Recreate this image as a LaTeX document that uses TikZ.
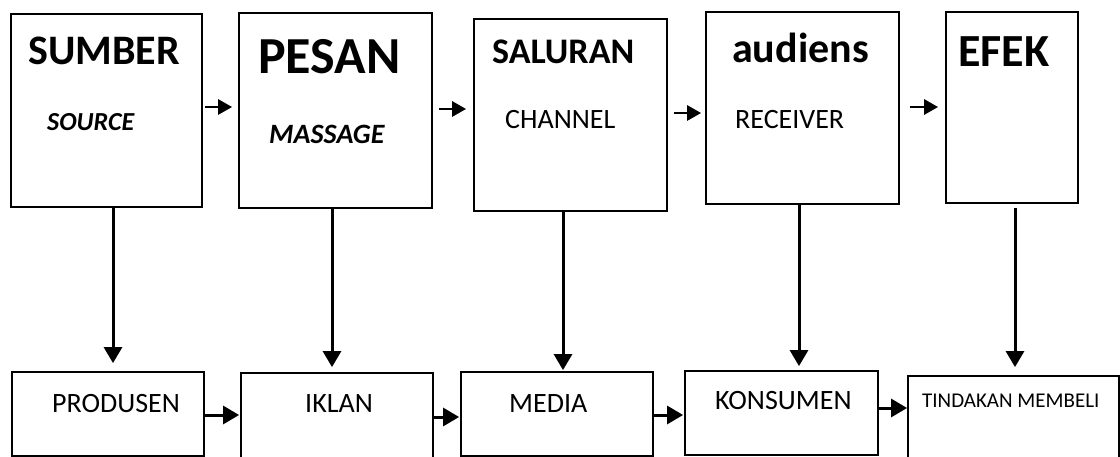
\documentclass[tikz,border=0pt]{standalone}
\usepackage{fontspec}
\setmainfont{Carlito}
\usetikzlibrary{arrows.meta}
\tikzset{
  box/.style={draw, line width=1.8pt, inner sep=0pt},
  lbl/.style={anchor=base west, inner sep=0pt},
  arr/.style={line width=2.8pt, -{Triangle[length=14pt,width=15pt]}},
  darr/.style={line width=3pt, -{Triangle[length=16pt,width=18pt]}},
}
\newcommand{\fs}[1]{\fontsize{#1}{#1}\selectfont}
\begin{document}
\begin{tikzpicture}[x=1pt,y=-1pt]
\useasboundingbox (0,0) rectangle (1120,457);
\clip (0,0) rectangle (1120,457);
% top row
\draw (106.5,110.5) node[box, minimum width=191, minimum height=193] (sumber) {};
\draw (335.5,110.5) node[box, minimum width=193, minimum height=195] (pesan) {};
\draw (570.5,115) node[box, minimum width=193, minimum height=192] (saluran) {};
\draw (802.5,108) node[box, minimum width=193, minimum height=192] (audiens) {};
\draw (1012,107.5) node[box, minimum width=132, minimum height=191] (efek) {};
\draw (28,65) node[lbl] (tsumber) {\fs{42}\bfseries SUMBER};
\draw (47,131) node[lbl] (tsource) {\fs{26}\bfseries\itshape SOURCE};
\draw (258,74) node[lbl] (tpesan) {\fs{52}\bfseries PESAN};
\draw (269,144) node[lbl] (tmassage) {\fs{28}\bfseries\itshape MASSAGE};
\draw (492,64) node[lbl] (tsaluran) {\fs{36}\bfseries SALURAN};
\draw (505,129) node[lbl] (tchannel) {\fs{28}CHANNEL};
\draw (732,63) node[lbl] (taudiens) {\fs{42}\bfseries audiens};
\draw (735,129) node[lbl] (treceiver) {\fs{28}RECEIVER};
\draw (958,67) node[lbl] (tefek) {\fs{46}\bfseries EFEK};
% bottom row
\draw (108,414) node[box, minimum width=192, minimum height=84] (produsen) {};
\draw (337,421.5) node[box, minimum width=192, minimum height=97] (iklan) {};
\draw (557,414) node[box, minimum width=192, minimum height=84] (media) {};
\draw (781.5,413) node[box, minimum width=193, minimum height=84] (konsumen) {};
\draw (1013.5,423) node[box, minimum width=211, minimum height=94] (tindakan) {};
\draw (52,412) node[lbl] (tprodusen) {\fs{28}PRODUSEN};
\draw (305,412) node[lbl] (tiklan) {\fs{28}IKLAN};
\draw (509,412) node[lbl] (tmedia) {\fs{28}MEDIA};
\draw (715,409) node[lbl] (tkonsumen) {\fs{28}KONSUMEN};
\draw (922,407) node[lbl] (ttindakan) {\fs{21}TINDAKAN MEMBELI};
% arrow rows and columns
\coordinate (r1) at (0,107);
\coordinate (r2) at (0,109);
\coordinate (r3) at (0,113);
\coordinate (r4) at (0,107);
\coordinate (s1) at (0,415);
\coordinate (s2) at (0,417);
\coordinate (s3) at (0,415);
\coordinate (s4) at (0,408);
\coordinate (c1) at (113,0);
\coordinate (c2) at (332,0);
\coordinate (c3) at (563,0);
\coordinate (c4) at (799,0);
\coordinate (c5) at (1015,0);
\draw[arr, shorten <=2pt, shorten >=6pt] (sumber.east |- r1) -- (pesan.west |- r1);
\draw[arr, shorten <=6pt, shorten >=7pt] (pesan.east |- r2) -- (saluran.west |- r2);
\draw[arr, shorten <=6pt, shorten >=4pt] (saluran.east |- r3) -- (audiens.west |- r3);
\draw[arr, shorten <=10pt, shorten >=7pt] (audiens.east |- r4) -- (efek.west |- r4);
\draw[darr, shorten >=8pt] (sumber.south -| c1) -- (produsen.north -| c1);
\draw[darr, shorten >=5pt] (pesan.south -| c2) -- (iklan.north -| c2);
\draw[darr, shorten >=1pt] (saluran.south -| c3) -- (media.north -| c3);
\draw[darr, shorten >=4pt] (audiens.south -| c4) -- (konsumen.north -| c4);
\draw[darr, shorten <=4pt, shorten >=8pt] (efek.south -| c5) -- (tindakan.north -| c5);
\draw[darr, shorten >=1pt] (produsen.east |- s1) -- (iklan.west |- s1);
\draw[darr, shorten <=-1pt, shorten >=1pt] (iklan.east |- s2) -- (media.west |- s2);
\draw[darr, shorten >=1pt] (media.east |- s3) -- (konsumen.west |- s3);
\draw[darr] (konsumen.east |- s4) -- (tindakan.west |- s4);
\end{tikzpicture}
\end{document}
